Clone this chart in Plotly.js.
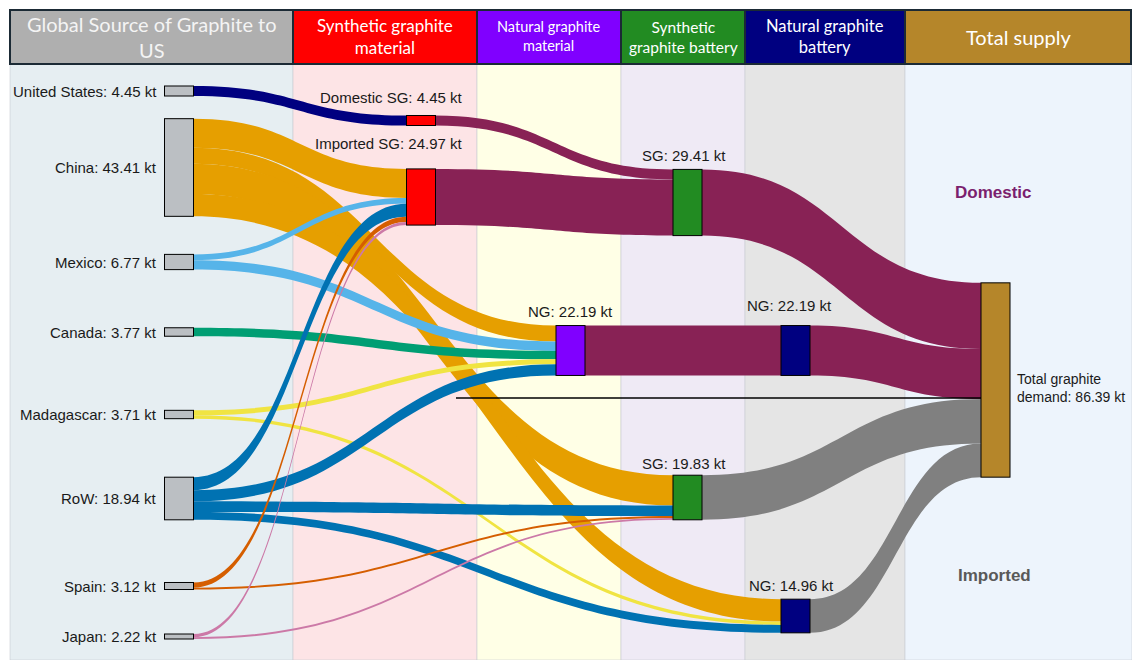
<!DOCTYPE html>
<html><head><meta charset="utf-8">
<script src="https://cdn.plot.ly/plotly-3.0.1.min.js"></script>
<style>html,body{margin:0;padding:0;background:#fff}</style>
</head><body><div id="chart" style="width:1132px;height:660px"></div>
<script>
// ---------- data ----------
const nodeNames = ["United States","China","Mexico","Canada","Madagascar","RoW","Spain","Japan",
  "Domestic SG","Imported SG","NG","SG","NG","SG","NG","Total graphite demand"];
const nodeValues = [4.45,43.41,6.77,3.77,3.71,18.94,3.12,2.22,4.45,24.97,22.19,29.41,22.19,19.83,14.96,86.39];
const linkSource = [0,1,1,1,1,2,2,3,4,4,5,5,5,5,6,6,7,7,8,9,10,11,12,13,14];
const linkTarget = [8,9,10,13,14,9,10,10,10,14,9,10,13,14,9,13,9,13,11,11,12,15,15,15,15];
const linkValue  = [4.45,12.9,7.1,13.49,9.92,2.6,4.17,3.77,2.2,1.51,5.77,4.95,4.7,3.52,2.3,0.82,1.4,0.82,4.45,24.97,22.19,29.41,22.19,19.83,14.96];
const headerTexts = ["Global Source of Graphite to<br>US","Synthetic graphite<br>material","Natural graphite<br>material",
  "Synthetic<br>graphite battery","Natural graphite<br>battery","Total supply"];
const groupTexts = ["Domestic","Imported"];

// ---------- layout / style ----------
const W = 1132, H = 660;
const px = x => x / W, py = y => 1 - y / H;
// sankey drawing band (pixels from top)
const bandTop = 62, bandH = 583;
const nodeCx = [179,179,179,179,179,179,179,179,421,421,570.5,687.5,795.5,687.5,795.5,995.5];
const nodeCy = [91,167.5,262,332,414.5,498.5,586,636.5,120.5,197,350.5,202.5,350.5,497.5,616,380];
const srcColors = ["#000080","#E69F00","#56B4E9","#009E73","#F0E442","#0072B2","#D55E00","#CC79A7"];
const nodeColors = ["#BBBFC3","#BBBFC3","#BBBFC3","#BBBFC3","#BBBFC3","#BBBFC3","#BBBFC3","#BBBFC3",
  "#FF0000","#FF0000","#8000FF","#228B22","#000080","#228B22","#000080","#B5862A"];
const nodeLine = nodeColors.map((c,i)=> i<8 ? "#8E9295" : "rgba(60,60,60,0.5)");
const linkColors = linkSource.map(s => s < 8 ? srcColors[s] : (s === 13 || s === 14 ? "#808080" : "#882255"));

const colBounds = [[10,293,"#E6EEF2"],[293,477,"#FDE4E6"],[477,621,"#FFFFE6"],[621,745,"#EFEAF5"],[745,905,"#E5E5E5"],[905,1132,"#EDF4FC"]];
const headColors = ["#AFAFAF","#FF0000","#8000FF","#228B22","#000080","#B5862A"];
const headFont = [20,17,14.5,15.5,16.5,20];
const headLineY = [[25,48],[27,47],[26,46],[28,46],[26,47],[37]];

const shapes = [];
colBounds.forEach((c,i)=>{
  shapes.push({type:"rect",xref:"paper",yref:"paper",x0:px(c[0]),x1:px(c[1]),y0:py(660),y1:py(64),
    fillcolor:c[2],line:{color:"rgba(200,205,210,0.6)",width:1},layer:"below"});
});
colBounds.forEach((c,i)=>{
  shapes.push({type:"rect",xref:"paper",yref:"paper",x0:px(c[0]),x1:px(i===5?1131:c[1]),y0:py(64),y1:py(10),
    fillcolor:headColors[i],line:{color:"#1B2A35",width:2},layer:"below"});
});
shapes.push({type:"line",xref:"paper",yref:"paper",x0:px(456),x1:px(981),y0:py(398),y1:py(398),
  line:{color:"#000",width:1.6},layer:"above"});

const annotations = [];
const hf = "Lato, 'Noto Sans', sans-serif";
headerTexts.forEach((t,i)=>{
  const c = colBounds[i];
  const cx = (c[0] + (i===5?1131:c[1]))/2;
  const ys = headLineY[i];
  const cy = (ys[0] + ys[ys.length-1])/2;
  annotations.push({xref:"paper",yref:"paper",x:px(cx),y:py(cy),text:t,showarrow:false,
    font:{family:hf,size:headFont[i],color:i===0?"#F4F4F4":"#FFFFFF"},xanchor:"center",yanchor:"middle",align:"center"});
});
const lf = "'Liberation Sans', Arial, sans-serif";
const labelText = i => `${nodeNames[i]}: ${nodeValues[i].toFixed(2)} kt`;
for (let i=0;i<8;i++){
  annotations.push({xref:"paper",yref:"paper",x:px(159),y:py(nodeCy[i]),text:labelText(i),showarrow:false,
    xanchor:"right",yanchor:"middle",font:{family:lf,size:15,color:"#1a1a1a"}});
}
const aboveLabels = [[8,465,97,"right"],[9,465,143,"right"],[10,570,311,"center"],[11,684,155,"center"],
  [12,789,305,"center"],[13,684,463,"center"],[14,791,585,"center"]];
aboveLabels.forEach(a=>{
  annotations.push({xref:"paper",yref:"paper",x:px(a[1]),y:py(a[2]),text:labelText(a[0]),showarrow:false,
    xanchor:a[3],yanchor:"middle",font:{family:lf,size:15,color:"#1a1a1a"}});
});
annotations.push({xref:"paper",yref:"paper",x:px(1015),y:py(388),
  text:labelText(15).replace(" demand","<br>demand"),showarrow:false,xanchor:"left",yanchor:"middle",align:"left",
  font:{family:lf,size:14,color:"#1a1a1a"}});
annotations.push({xref:"paper",yref:"paper",x:px(993),y:py(192),text:"<b>"+groupTexts[0]+"</b>",showarrow:false,
  xanchor:"center",yanchor:"middle",font:{family:lf,size:17,color:"#7B1F6E"}});
annotations.push({xref:"paper",yref:"paper",x:px(994),y:py(575),text:"<b>"+groupTexts[1]+"</b>",showarrow:false,
  xanchor:"center",yanchor:"middle",font:{family:lf,size:17,color:"#595959"}});

const trace = {
  type:"sankey",
  arrangement:"fixed",
  domain:{x:[0,1],y:[py(bandTop+bandH),py(bandTop)]},
  hoverinfo:"none",
  node:{
    label:nodeNames.map(()=>""),
    x:nodeCx.map(v=>v/W),
    y:nodeCy.map(v=>(v-bandTop)/bandH),
    thickness:29,
    pad:70,
    color:nodeColors,
    line:{color:nodeLine,width:1},
    hoverinfo:"none"
  },
  link:{source:linkSource,target:linkTarget,value:linkValue,color:linkColors,hoverinfo:"none"}
};

Plotly.newPlot("chart",[trace],{
  width:W,height:H,margin:{l:0,r:0,t:0,b:0},
  paper_bgcolor:"#FFFFFF",plot_bgcolor:"rgba(0,0,0,0)",
  shapes:shapes,annotations:annotations,showlegend:false
},{displayModeBar:false,staticPlot:true});
</script></body></html>
